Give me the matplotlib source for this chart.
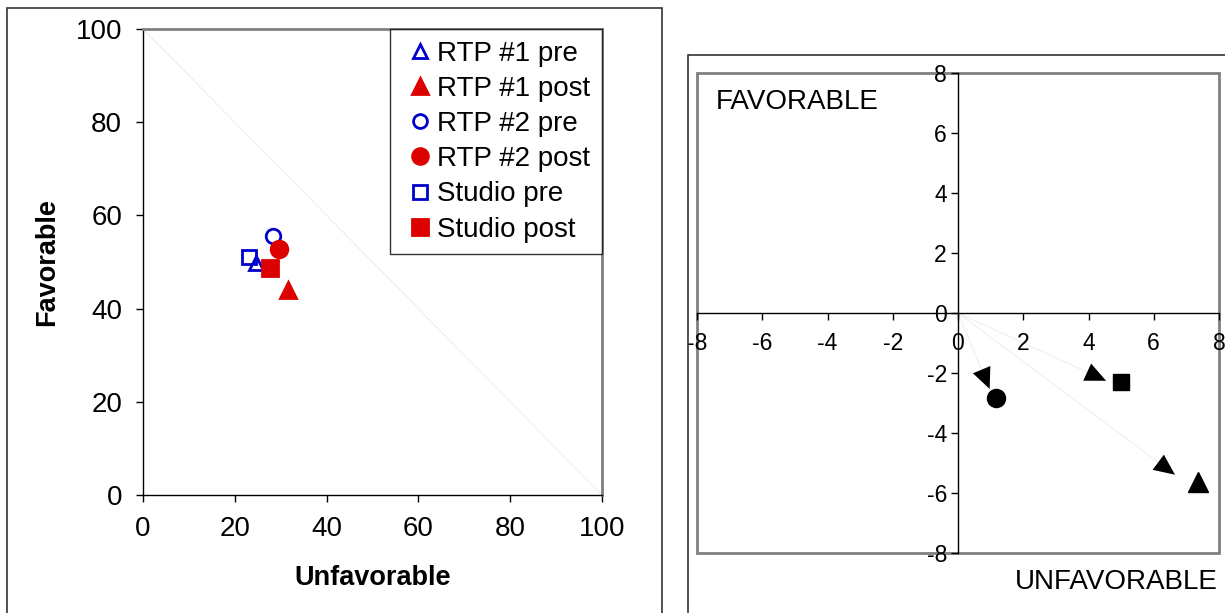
import matplotlib
matplotlib.use("Agg")
from matplotlib import pyplot as plt
from matplotlib.patches import Rectangle

plt.rcParams['font.family'] = ['Liberation Sans', 'DejaVu Sans']
plt.rcParams['axes.unicode_minus'] = False

# left panel: percent favorable vs unfavorable
labels = ['RTP #1 pre', 'RTP #1 post', 'RTP #2 pre', 'RTP #2 post', 'Studio pre', 'Studio post']
unfav = [24.6, 31.6, 28.3, 29.6, 23.1, 27.7]
fav = [49.8, 44.0, 55.6, 52.8, 51.1, 48.7]
markers = ['^', '^', 'o', 'o', 's', 's']
filled = [False, True, False, True, False, True]

# right panel: change vectors
chg_x = [1.15, 4.99, 7.35]
chg_y = [-2.83, -2.29, -5.64]
chg_markers = ['o', 's', '^']
chg_sizes = [13, 12, 15]
arrow_x = [0.97, 4.54, 6.65]
arrow_y = [-2.53, -2.26, -5.39]

BLUE = '#0000CC'
RED = '#DD0000'
GRAY = '#808080'

fig = plt.figure(figsize=(12.25, 6.13), dpi=100)

# chart area borders
fig.patches.append(Rectangle((7 / 1225, -0.02), 655 / 1225, 1.02 - 8 / 613, transform=fig.transFigure,
                             fill=False, ec='#333333', lw=1.2))
fig.patches.append(Rectangle((688 / 1225, -0.02), 0.5, 1.02 - 55 / 613, transform=fig.transFigure,
                             fill=False, ec='#333333', lw=1.2))

# ---- left panel
ax1 = fig.add_axes([143 / 1225, 1 - 495 / 613, 459 / 1225, 466 / 613])
ax1.plot([0, 100], [100, 0], color='#EFEFEF', lw=0.8, zorder=1)
for i in range(len(labels)):
    col = RED if filled[i] else BLUE
    ax1.plot(unfav[i], fav[i], linestyle='none', marker=markers[i], markersize=12 if filled[i] else 10.5,
             markerfacecolor=col if filled[i] else 'none', markeredgecolor=col, markeredgewidth=2,
             label=labels[i], zorder=3)
ax1.set_xlim(0, 100)
ax1.set_ylim(0, 100)
ax1.set_xticks(range(0, 101, 20))
ax1.set_yticks(range(0, 101, 20))
ax1.tick_params(labelsize=20, length=5, width=1, direction='out', pad=10)
for s in ['top', 'right']:
    ax1.spines[s].set_color(GRAY)
    ax1.spines[s].set_linewidth(2)
for s in ['left', 'bottom']:
    ax1.spines[s].set_color('black')
    ax1.spines[s].set_linewidth(1)
ax1.set_xlabel('Unfavorable', fontsize=19.5, fontweight='bold', labelpad=17)
ax1.set_ylabel('Favorable', fontsize=19.5, fontweight='bold', labelpad=11)
leg = ax1.legend(loc='upper right', bbox_to_anchor=(1, 1), borderaxespad=0, fontsize=20,
                 fancybox=False, frameon=True, labelspacing=0.33, handlelength=1.33,
                 handletextpad=-0.05, borderpad=0.42, markerscale=0.95)
leg.get_frame().set_edgecolor('black')
leg.get_frame().set_linewidth(1)

# ---- right panel
ax2 = fig.add_axes([697 / 1225, 1 - 553 / 613, 522 / 1225, 480 / 613])
ax2.set_xlim(-8, 8)
ax2.set_ylim(-8, 8)
ax2.add_patch(Rectangle((0, 0), 1, 1, transform=ax2.transAxes, fill=False, ec=GRAY, lw=2, zorder=0.5,
                        clip_on=False))
for s in ['top', 'right']:
    ax2.spines[s].set_visible(False)
for s in ['left', 'bottom']:
    ax2.spines[s].set_position('zero')
    ax2.spines[s].set_color('black')
    ax2.spines[s].set_linewidth(1)
ax2.set_xticks(range(-8, 9, 2))
ax2.set_yticks(range(-8, 9, 2))
ax2.tick_params(axis='y', labelsize=16.5, length=5, width=1, direction='out', pad=3)
ax2.tick_params(axis='x', labelsize=16.5, length=5, width=1, direction='out', pad=9)

for i in range(len(arrow_x)):
    ax2.plot([0, arrow_x[i]], [0, arrow_y[i]], color='#F0F0F0', lw=0.8, zorder=1)
    ax2.annotate('', xy=(arrow_x[i], arrow_y[i]), xytext=(0, 0),
                 arrowprops=dict(arrowstyle='-|>,head_length=0.75,head_width=0.34', color='black',
                                 lw=0, mutation_scale=20, shrinkA=0, shrinkB=0), zorder=3)
for i in range(len(chg_x)):
    ax2.plot(chg_x[i], chg_y[i], linestyle='none', marker=chg_markers[i], markersize=chg_sizes[i],
             color='black', zorder=3)

ax2.text(0.035, 0.94, 'FAVORABLE', transform=ax2.transAxes, fontsize=20, va='center', ha='left')
fig.text(1218 / 1225, 1 - 582 / 613, 'UNFAVORABLE', fontsize=20, va='center', ha='right')

fig.savefig('out.png', dpi=100)
